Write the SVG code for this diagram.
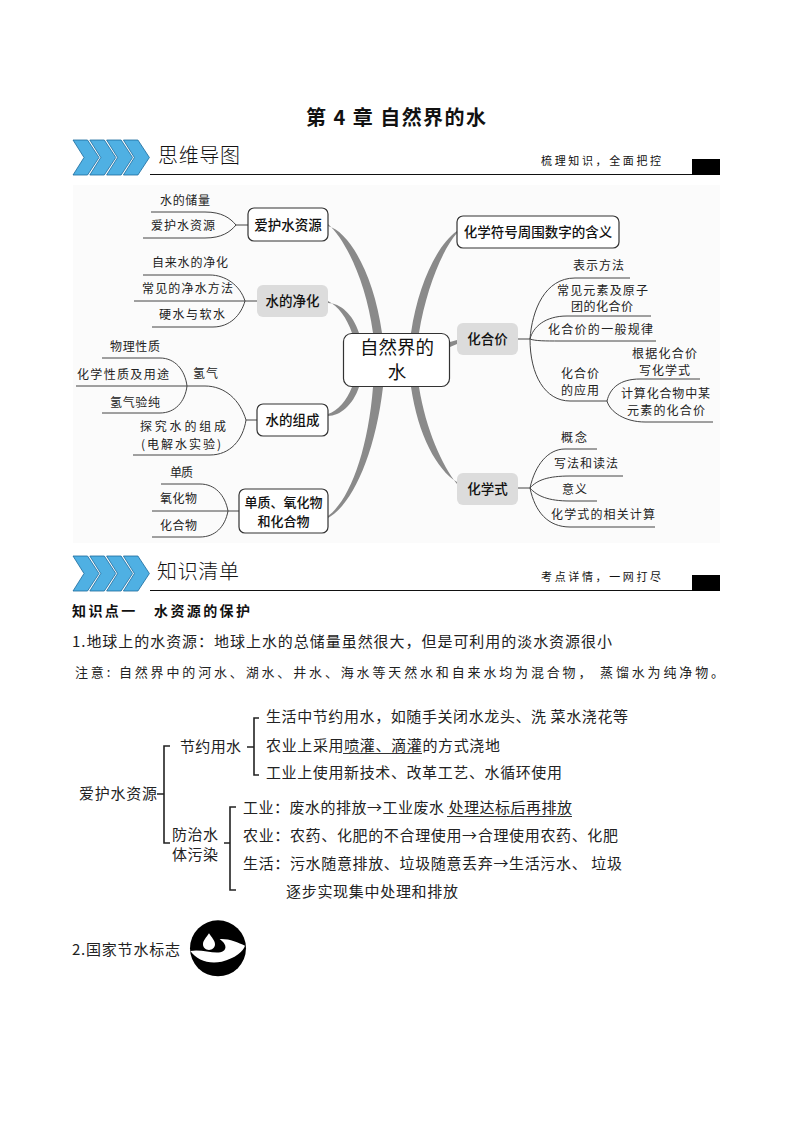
<svg xmlns="http://www.w3.org/2000/svg" width="794" height="1123" viewBox="0 0 794 1123">
<style>
text{font-family:"Noto Sans CJK SC","Liberation Sans",sans-serif;dominant-baseline:central;fill:#111;transform:translateY(-1.5px)}
.s{font-size:12px;fill:#222}
.n{font-size:13.5px;font-weight:500;text-anchor:middle}
.n2{font-size:13px;font-weight:500;text-anchor:middle}
.b{font-size:15px;fill:#222}
.h{font-size:20px;font-weight:300}
.t{font-size:11px}
.box{fill:#fff;stroke:#333;stroke-width:1.2}
.gray{fill:#dcdcdc;stroke:none}
.thick{fill:#8a8a8a;stroke:none}
.thin{fill:none;stroke:#444;stroke-width:1}
.br{fill:none;stroke:#222;stroke-width:1.6}
.ul{stroke:#333;stroke-width:1}
.chev{fill:#4fb0e3;stroke:#1a6a9c;stroke-width:.8}
</style>
<defs>
<path id="c" class="chev" d="M73 0H87.500L99 17.500 87.500 35H73L84 17.500Z"/>
<g id="banner">
<use href="#c" x="0"/><use href="#c" x="16.800"/><use href="#c" x="33.600"/><use href="#c" x="50.400"/>
</g>
</defs>
<rect x="73" y="185" width="647" height="358" fill="#fbfbfb"/>
<text x="306" y="118" textLength="180" style="font-size:20px;font-weight:700">第 4 章 自然界的水</text>

<g id="header1">
<use href="#banner" y="140"/>
<text class="h" x="158" y="156" textLength="82">思维导图</text>
<text class="t" x="541" y="161" textLength="120">梳理知识，全面把控</text>
<path d="M150 174.500H692" stroke="#111" stroke-width="1"/>
<rect x="692" y="159" width="28" height="16" fill="#000"/>
</g>

<g id="connectors">
<path class="thick" d="M328 224C346 240 366 282 373 333H382C374 276 350 232 328 226Z"/>
<path class="thick" d="M328 301C338 306 347 318 352 333H359C353 314 340 303 328 303Z"/>
<path class="thick" d="M328 414C338 411 347 400 352 387H359C353 405 340 416 328 416Z"/>
<path class="thick" d="M328 516C350 500 368 450 373 387H383C375 455 352 505 328 518Z"/>
<path class="thick" d="M457 231C437 245 418 285 411 333H419C426 290 442 250 457 233Z"/>
<path class="thick" d="M450 342L457 340V344L450 347Z"/>
<path class="thick" d="M457 482C437 470 418 435 411 387H419C426 430 442 465 457 484Z"/>
<g class="thin">
<path d="M248 225H236C230 218 222 212 205 212H151"/>
<path d="M236 225C230 232 222 238 205 238H143"/>
<path d="M257 301H245C240 285 225 275 210 275H143"/>
<path d="M245 301H134"/>
<path d="M245 301C241 315 230 327 213 327H152"/>
<path d="M257 420H246C240 400 225 386 205 386H76"/>
<path d="M246 420C243 440 230 455 210 455H133"/>
<path d="M187 386C185 370 175 358 160 358H102"/>
<path d="M187 386C185 402 175 413 160 413H102"/>
<path d="M239 511H228C225 495 215 484 200 484H161"/>
<path d="M228 511H152"/>
<path d="M228 511C225 527 215 537 200 537H152"/>
<path d="M518 339H530C532 310 545 278 575 278H630"/>
<path d="M530 339C533 327 545 316 567 316H651"/>
<path d="M530 339C535 341 545 341 560 341H656"/>
<path d="M530 339C530 375 545 401 570 401H607"/>
<path d="M607 401C610 388 620 379 640 379H700"/>
<path d="M607 401C610 412 625 422 645 422H713"/>
<path d="M518 488H530C535 465 548 449 565 449H597"/>
<path d="M530 488C537 480 548 476 570 476H623"/>
<path d="M530 488C537 496 548 501 570 501H597"/>
<path d="M530 488C535 512 548 527 570 527H655"/>
</g>
</g>

<g id="node-center"><rect class="box" x="343.500" y="333.500" width="106" height="53" rx="8"/><text x="397" y="347" style="font-size:18.500px;text-anchor:middle">自然界的</text><text x="397" y="372" style="font-size:18.500px;text-anchor:middle">水</text></g>
<g id="node-aihu"><rect class="box" x="248" y="208" width="80" height="33" rx="6"/><text class="n" x="288" y="225">爱护水资源</text></g>
<g id="node-jinghua"><rect class="gray" x="257" y="285" width="71" height="32" rx="6"/><text class="n" x="292.500" y="301">水的净化</text></g>
<g id="node-zucheng"><rect class="box" x="257" y="404" width="71" height="32" rx="6"/><text class="n" x="292.500" y="420">水的组成</text></g>
<g id="node-danzhi"><rect class="box" x="239" y="489" width="89" height="44" rx="6"/><text class="n2" x="283.500" y="503">单质、氧化物</text><text class="n2" x="283.500" y="522">和化合物</text></g>
<g id="node-fuhao"><rect class="box" x="457" y="216" width="162" height="32" rx="6"/><text class="n" x="538" y="232">化学符号周围数字的含义</text></g>
<g id="node-huahejia"><rect class="gray" x="457" y="323" width="61" height="32" rx="6"/><text class="n" x="487.500" y="339">化合价</text></g>
<g id="node-huaxueshi"><rect class="gray" x="457" y="473" width="61" height="32" rx="6"/><text class="n" x="487.500" y="489">化学式</text></g>

<g id="labels">
<text class="s" x="160" y="201" textLength="50">水的储量</text>
<text class="s" x="151" y="226" textLength="64">爱护水资源</text>
<text class="s" x="152" y="263" textLength="76">自来水的净化</text>
<text class="s" x="142" y="289" textLength="91">常见的净水方法</text>
<text class="s" x="159" y="315" textLength="66">硬水与软水</text>
<text class="s" x="110" y="347" textLength="50">物理性质</text>
<text class="s" x="77" y="375" textLength="92">化学性质及用途</text>
<text class="s" x="110" y="403" textLength="50">氢气验纯</text>
<text class="s" x="193" y="374" textLength="25">氢气</text>
<text class="s" x="140" y="427" textLength="86">探究水的组成</text>
<text class="s" x="141" y="445" textLength="80">(电解水实验)</text>
<text class="s" x="170" y="473" textLength="23">单质</text>
<text class="s" x="160" y="499" textLength="37">氧化物</text>
<text class="s" x="160" y="526" textLength="37">化合物</text>
<text class="s" x="573" y="266" textLength="51">表示方法</text>
<text class="s" x="557" y="291" textLength="91">常见元素及原子</text>
<text class="s" x="571" y="307" textLength="62">团的化合价</text>
<text class="s" x="548" y="330" textLength="105">化合价的一般规律</text>
<text class="s" x="561" y="374" textLength="38">化合价</text>
<text class="s" x="561" y="391" textLength="38">的应用</text>
<text class="s" x="632" y="354" textLength="65">根据化合价</text>
<text class="s" x="639" y="371" textLength="51">写化学式</text>
<text class="s" x="621" y="394" textLength="89">计算化合物中某</text>
<text class="s" x="627" y="411" textLength="78">元素的化合价</text>
<text class="s" x="561" y="438" textLength="26">概念</text>
<text class="s" x="554" y="464" textLength="64">写法和读法</text>
<text class="s" x="562" y="490" textLength="25">意义</text>
<text class="s" x="551" y="515" textLength="104">化学式的相关计算</text>
</g>

<g id="header2">
<use href="#banner" y="556"/>
<text class="h" x="157" y="572" textLength="82">知识清单</text>
<text class="t" x="541" y="577" textLength="120">考点详情，一网打尽</text>
<path d="M150 590.500H692" stroke="#111" stroke-width="1"/>
<rect x="692" y="575" width="28" height="16" fill="#000"/>
</g>

<g id="body">
<text x="72" y="611" textLength="178" style="font-size:14px;font-weight:700">知识点一　水资源的保护</text>
<text x="72" y="642" textLength="540" style="font-size:15px;fill:#222">1.地球上的水资源：地球上水的总储量虽然很大，但是可利用的淡水资源很小</text>
<text x="75" y="673" textLength="649" style="font-size:13px;fill:#222">注意: 自然界中的河水、湖水、井水、海水等天然水和自来水均为混合物， 蒸馏水为纯净物。</text>
<g id="tree">
<path class="br" d="M170 746H164V843H170M157 794H164"/>
<path class="br" d="M259 718H254V775H259M247 747H254"/>
<path class="br" d="M236 807H230V890H236M224 843H230"/>
<text class="b" x="79" y="794" textLength="78">爱护水资源</text>
<text class="b" x="180" y="747" textLength="61">节约用水</text>
<text class="b" x="172" y="835" textLength="46">防治水</text>
<text class="b" x="172" y="855" textLength="46">体污染</text>
<text class="b" x="266" y="717" textLength="362">生活中节约用水，如随手关闭水龙头、洗 菜水浇花等</text>
<text class="b" x="266" y="746" textLength="234">农业上采用喷灌、滴灌的方式浇地</text>
<path class="ul" d="M343 753.500H422"/>
<text class="b" x="266" y="773" textLength="296">工业上使用新技术、改革工艺、水循环使用</text>
<text class="b" x="243" y="808" textLength="329">工业：废水的排放→工业废水 处理达标后再排放</text>
<path class="ul" d="M447 816.500H572"/>
<text class="b" x="243" y="836" textLength="375">农业：农药、化肥的不合理使用→合理使用农药、化肥</text>
<text class="b" x="243" y="864" textLength="379">生活：污水随意排放、垃圾随意丢弃→生活污水、 垃圾</text>
<text class="b" x="286" y="892" textLength="172">逐步实现集中处理和排放</text>
</g>
<text class="b" x="72" y="950" textLength="108">2.国家节水标志</text>
<g id="logo" transform="translate(185 915) scale(.3333)">
<circle cx="99" cy="100" r="84" fill="#000"/>
<path fill="#fff" d="M16 108C50 100 95 122 115 108C127 100 122 85 104 72C130 70 160 82 180 92C176 108 150 130 110 140C70 148 35 135 16 108Z"/>
<path fill="#fff" d="M72 55C64 68 54 76 54 88C54 98 62 105 72 105C82 105 90 98 90 88C90 76 80 68 72 55Z"/>
</g>
</g>
</svg>
